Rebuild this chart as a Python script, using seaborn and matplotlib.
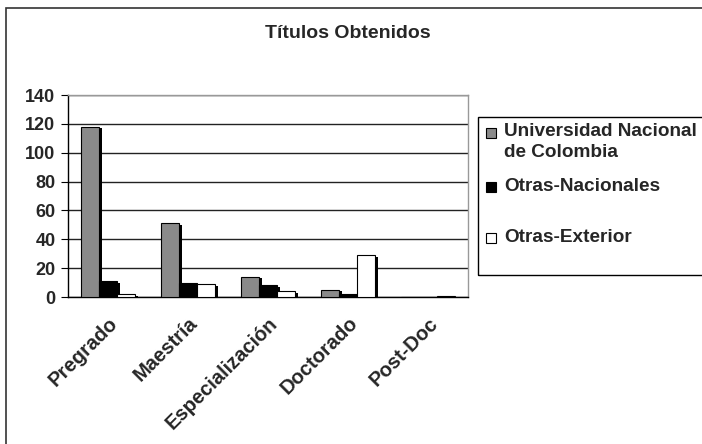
import matplotlib
matplotlib.use("Agg")
import matplotlib.pyplot as plt
import matplotlib.patheffects as pe
import matplotlib.transforms as mtrans
from matplotlib.patches import Rectangle
import seaborn as sns
import pandas as pd
import numpy as np

categories = ["Pregrado", "Maestría", "Especialización", "Doctorado", "Post-Doc"]
series_names = ["Universidad Nacional\nde Colombia", "Otras-Nacionales", "Otras-Exterior"]
un_values = [118, 51, 14, 5, 0]
nac_values = [11, 10, 8, 2, 0]
ext_values = [2, 9, 4, 29, 1]
yticks = [0, 20, 40, 60, 80, 100, 120, 140]
colors = ["#8a8a8a", "#000000", "#ffffff"]

rows = []
for name, vals in zip(series_names, [un_values, nac_values, ext_values]):
    for c, v in zip(categories, vals):
        rows.append({"cat": c, "serie": name, "val": v})
df = pd.DataFrame(rows)

sns.set_style("white")
plt.rcParams["font.family"] = ["Liberation Sans", "DejaVu Sans"]

W, H = 702, 444
fig = plt.figure(figsize=(W/100, H/100), dpi=100)
ax = fig.add_axes([68/W, 1-297/H, (468-68)/W, (297-95)/H])

sns.barplot(data=df, x="cat", y="val", hue="serie", hue_order=series_names,
            order=categories, palette=colors, width=0.675, ax=ax,
            edgecolor="black", linewidth=0.8, saturation=1, legend=False, errorbar=None)

for p in ax.patches:
    p.set_path_effects([pe.SimplePatchShadow(offset=(2, -1.2), shadow_rgbFace="black", alpha=1), pe.Normal()])
    p.set_zorder(3)

ax.set_ylim(0, 140)
ax.set_xlim(-0.5, len(categories) - 0.5)
ax.set_yticks(yticks)
ax.set_yticklabels([str(t) for t in yticks], fontsize=13, fontweight="bold")
ax.yaxis.grid(True, color="#222222", linewidth=1)
ax.set_axisbelow(True)
ax.set_xlabel("")
ax.set_ylabel("")
ax.set_xticks(range(len(categories)))
ax.set_xticklabels(categories, rotation=45, ha="right", va="top", rotation_mode="anchor",
                   fontsize=14.5, fontweight="bold")
shift = mtrans.ScaledTranslation(-10/100, 0, fig.dpi_scale_trans)
for lbl in ax.get_xticklabels():
    lbl.set_transform(lbl.get_transform() + shift)
ax.tick_params(axis="x", length=0, pad=12)
ax.set_xticks(np.arange(-0.5, len(categories), 1), minor=True)
ax.tick_params(axis="x", which="minor", length=5, direction="out", color="black")
ax.tick_params(axis="y", length=5, direction="out", color="black", pad=4, left=True)
for s in ["left", "bottom"]:
    ax.spines[s].set_color("black")
    ax.spines[s].set_linewidth(1)
for s in ["top", "right"]:
    ax.spines[s].set_color("#999999")
    ax.spines[s].set_linewidth(1)

fig.text(348/W, 1-34/H, "Títulos Obtenidos", ha="center", va="center",
         fontsize=14, fontweight="bold")

# legend (manual, to mimic the spreadsheet layout)
fig.patches.append(Rectangle((478/W, 1-275/H), (W+20-478)/W, (275-117)/H,
                             transform=fig.transFigure, fill=False,
                             edgecolor="black", linewidth=1))
leg_y = [133, 187, 238]
for name, col, y in zip(series_names, colors, leg_y):
    fig.patches.append(Rectangle((486/W, 1-(y+5)/H), 10/W, 10/H, transform=fig.transFigure,
                                 facecolor=col, edgecolor="black", linewidth=0.8))
    fig.text(504/W, 1-(y-9.5)/H, name, ha="left", va="top", fontsize=13.7,
             fontweight="bold", linespacing=1.25)

fig.patches.append(Rectangle((6/W, -0.05), 1.1, 1.05-8/H, transform=fig.transFigure,
                             fill=False, edgecolor="#333333", linewidth=1.2))

fig.savefig("out.png", dpi=100)
